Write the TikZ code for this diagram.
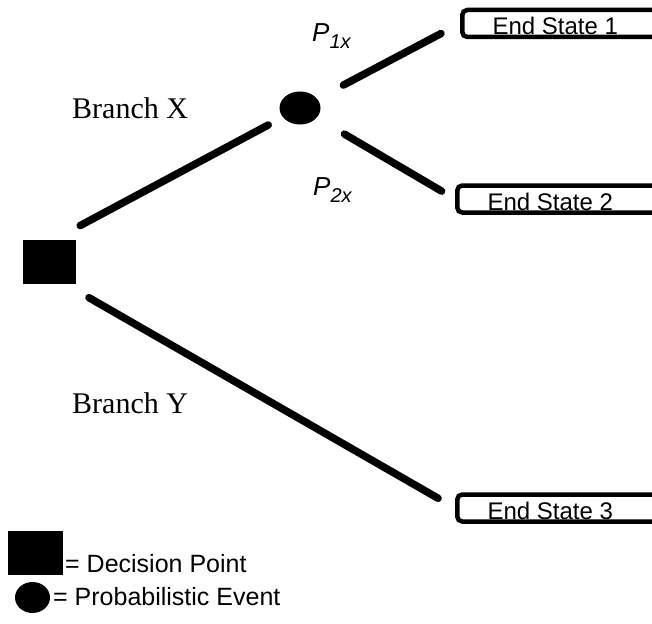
\documentclass[tikz,border=0pt]{standalone}
\usepackage{fontspec}
\setmainfont{Liberation Serif}
\setsansfont{Liberation Sans}
\usetikzlibrary{shapes.geometric}

\begin{document}
\begin{tikzpicture}[
    x=1pt,y=-1pt,
    branch/.style={line width=7.5pt, line cap=round},
    endbox/.style={draw, line width=4.5pt, rounded corners=5pt, minimum width=230pt,
      minimum height=27pt, text height=23pt, text depth=0pt, inner sep=0pt, anchor=west,
      font=\sffamily\fontsize{24}{24}\selectfont},
    decbox/.style={fill=black, minimum width=53pt, minimum height=44pt, inner sep=0pt},
    chance/.style={ellipse, fill=black, minimum width=41pt, minimum height=33pt, inner sep=0pt},
    branchlabel/.style={anchor=base west, inner sep=0pt, font=\rmfamily\fontsize{30}{30}\selectfont},
    problabel/.style={anchor=base west, inner sep=0pt, font=\sffamily\itshape\fontsize{26}{26}\selectfont},
    keylabel/.style={anchor=base west, inner sep=0pt, font=\sffamily\fontsize{25}{25}\selectfont}
    ]
    \useasboundingbox (0,0) rectangle (652,623);
    \node[decbox] (decision) at (49.5,262) {};
    \node[chance] (event) at (300,108) {};
    \node[endbox] (end1) at (460,23.5) {End State 1\hspace{44pt}\mbox{}};
    \node[endbox] (end2) at (455,199) {End State 2\hspace{44pt}\mbox{}};
    \node[endbox] (end3) at (455,508) {End State 3\hspace{44pt}\mbox{}};
    \draw[branch, shorten <=36pt, shorten >=34.8pt] (event.center) -- ([yshift=20pt]decision.center);
    \draw[branch, shorten <=45.5pt, shorten >=19.5pt] ([yshift=-13pt]decision.center) -- (end3.west);
    \draw[branch, shorten <=49pt, shorten >=21.5pt] (event.center) -- (end1.west);
    \draw[branch, shorten <=51.5pt, shorten >=15.5pt] (event.center) -- (end2.west);
    \node[branchlabel] (bx) at (72,118) {Branch X};
    \node[branchlabel] (by) at (72,413) {Branch Y};
    \node[problabel] (p1) at (312,42) {P\raisebox{-7pt}{\fontsize{20}{20}\selectfont 1x}};
    \node[problabel] (p2) at (313,195) {P\raisebox{-7pt}{\fontsize{20}{20}\selectfont 2x}};
    \node[decbox, minimum width=55pt] (keydec) at (35.5,553) {};
    \node[keylabel] (keydectext) at (65,572) {= Decision Point};
    \node[chance, minimum width=35pt, minimum height=31pt] (keyevent) at (32.5,597.5) {};
    \node[keylabel] (keyeventtext) at (53,605) {= Probabilistic Event};
  \end{tikzpicture}
\end{document}
